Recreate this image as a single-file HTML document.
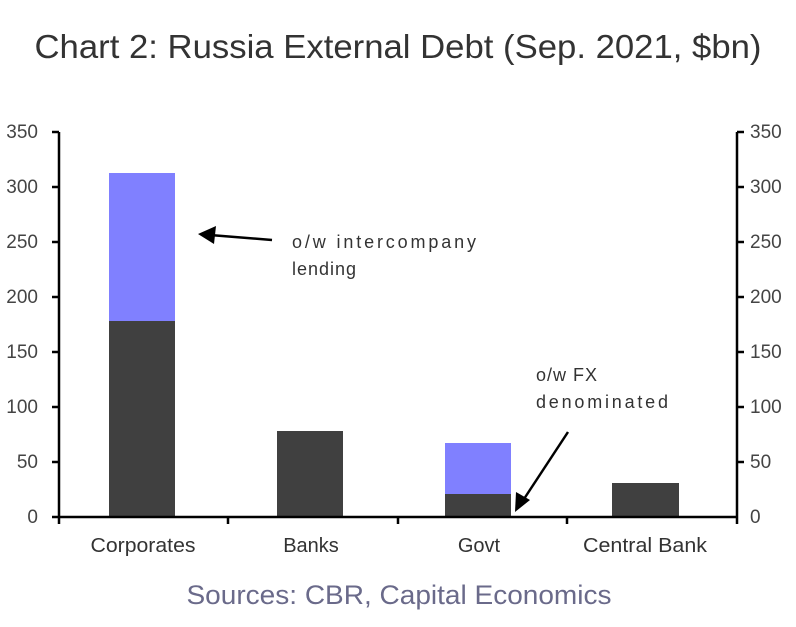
<!DOCTYPE html>
<html><head><style>
body{margin:0;background:#fff;width:796px;height:622px;overflow:hidden}
</style></head><body>
<svg width="796" height="622" xmlns="http://www.w3.org/2000/svg" font-family="Liberation Sans, sans-serif">
<text x="398" y="58" text-anchor="middle" font-size="33" fill="#333" textLength="727" lengthAdjust="spacingAndGlyphs">Chart 2: Russia External Debt (Sep. 2021, $bn)</text>
<g fill="#444" font-size="19">
<text x="38" y="523" text-anchor="end">0</text>
<text x="38" y="468" text-anchor="end">50</text>
<text x="38" y="413" text-anchor="end">100</text>
<text x="38" y="358" text-anchor="end">150</text>
<text x="38" y="303" text-anchor="end">200</text>
<text x="38" y="248" text-anchor="end">250</text>
<text x="38" y="193" text-anchor="end">300</text>
<text x="38" y="138" text-anchor="end">350</text>
<text x="750" y="523">0</text>
<text x="750" y="468">50</text>
<text x="750" y="413">100</text>
<text x="750" y="358">150</text>
<text x="750" y="303">200</text>
<text x="750" y="248">250</text>
<text x="750" y="193">300</text>
<text x="750" y="138">350</text>
</g>
<rect x="109" y="321" width="66" height="196" fill="#404040"/>
<rect x="109" y="173" width="66" height="148" fill="#8080ff"/>
<rect x="277" y="431" width="66" height="86" fill="#404040"/>
<rect x="445" y="494" width="66" height="23" fill="#404040"/>
<rect x="445" y="443" width="66" height="51" fill="#8080ff"/>
<rect x="612" y="483" width="67" height="34" fill="#404040"/>
<g stroke="#000" stroke-width="2.5" fill="none">
<line x1="59" y1="132" x2="59" y2="517"/>
<line x1="737" y1="132" x2="737" y2="517"/>
<line x1="58" y1="517" x2="738" y2="517"/>
<path d="M52 132h7M52 187h7M52 242h7M52 297h7M52 352h7M52 407h7M52 462h7M52 517h7"/>
<path d="M737 132h7M737 187h7M737 242h7M737 297h7M737 352h7M737 407h7M737 462h7"/>
<path d="M59 517v7M228 517v7M398 517v7M567 517v7M737 517v7"/>
<line x1="272" y1="240" x2="210" y2="235"/>
<line x1="568" y1="432" x2="522" y2="502"/>
</g>
<polygon points="198,234 216,226 214,244" fill="#000"/>
<polygon points="515,512 516,492 530,500" fill="#000"/>
<g fill="#333" font-size="18">
<text x="292" y="248" textLength="184" lengthAdjust="spacing">o/w intercompany</text>
<text x="292" y="275" letter-spacing="1">lending</text>
<text x="536" y="381" letter-spacing="1">o/w FX</text>
<text x="536" y="408" textLength="132" lengthAdjust="spacing">denominated</text>
</g>
<g fill="#333" font-size="20">
<text x="143" y="552" text-anchor="middle" textLength="105" lengthAdjust="spacingAndGlyphs">Corporates</text>
<text x="311" y="552" text-anchor="middle">Banks</text>
<text x="479" y="552" text-anchor="middle">Govt</text>
<text x="645" y="552" text-anchor="middle" textLength="124" lengthAdjust="spacingAndGlyphs">Central Bank</text>
</g>
<text x="399" y="604" text-anchor="middle" font-size="27" fill="#6a6a8a" textLength="425" lengthAdjust="spacingAndGlyphs">Sources: CBR, Capital Economics</text>
</svg>
</body></html>
